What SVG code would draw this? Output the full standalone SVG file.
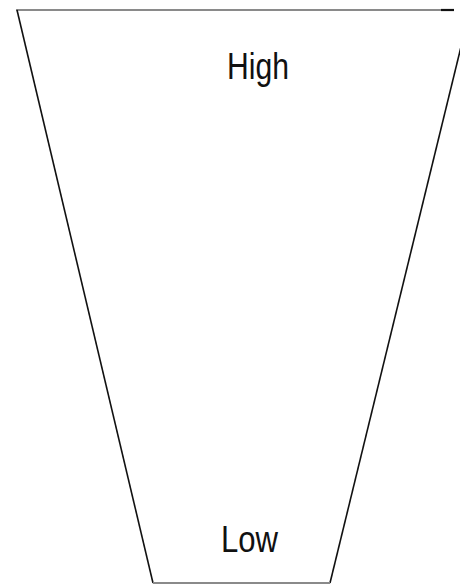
<svg xmlns="http://www.w3.org/2000/svg" width="460" height="585" viewBox="0 0 460 585">
<style>
.edge{stroke:#111;stroke-width:1.6;fill:none}
.rim{stroke:#8a8a8a;stroke-width:2.2;fill:none}
.lbl{font-family:"Liberation Sans",Arial,sans-serif;font-size:36px;fill:#111}
</style>
<rect width="460" height="585" fill="#fff"/>
<g id="funnel">
<line class="rim" x1="16" y1="10" x2="442" y2="10"/>
<line x1="441" y1="10" x2="454" y2="10" stroke="#111" stroke-width="2.2"/>
<line class="edge" x1="17" y1="10" x2="153" y2="583"/>
<line class="edge" x1="470" y1="10" x2="330" y2="583"/>
<line class="rim" x1="153" y1="583" x2="330" y2="583" stroke-width="1.6"/>
</g>
<g id="high"><text class="lbl" x="227" y="79" textLength="62" lengthAdjust="spacingAndGlyphs">High</text></g>
<g id="low"><text class="lbl" x="221" y="552" textLength="57" lengthAdjust="spacingAndGlyphs">Low</text></g>
</svg>
